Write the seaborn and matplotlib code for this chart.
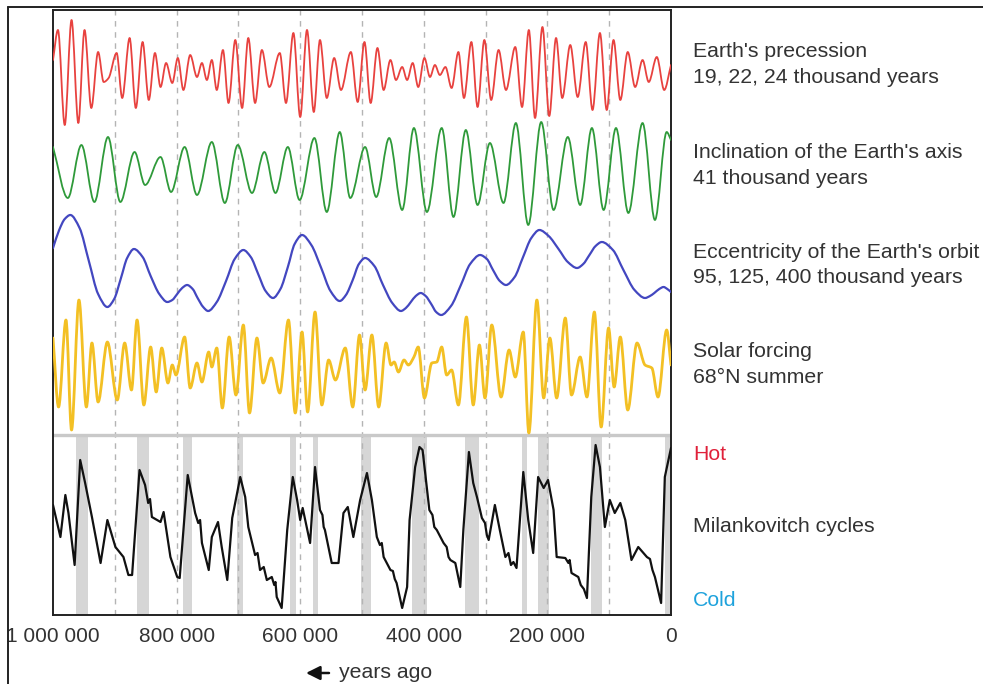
import numpy as np
import pandas as pd
import matplotlib
matplotlib.use("Agg")
import matplotlib.pyplot as plt
from matplotlib.lines import Line2D
from matplotlib.path import Path
from matplotlib.patches import PathPatch
import seaborn as sns

# ---------------- data (thousand years ago, relative amplitude) ----------------
prec_kyr = [1000, 992, 981, 970, 959, 949, 938, 927, 918, 910, 897, 888, 876, 866, 855, 845, 835, 826,
            817, 807, 798, 789, 778, 767, 759, 751, 743, 735, 725, 716, 705, 694, 684, 673, 662, 650,
            633, 623, 611, 600, 589, 578, 568, 557, 545, 534, 518, 507, 496, 486, 475, 465, 454, 445,
            435, 427, 418, 409, 399, 390, 382, 374, 365, 355, 344, 335, 323, 313, 302, 291, 279, 267,
            252, 241, 230, 220, 208, 197, 186, 176, 163, 151, 138, 127, 115, 104, 93, 82, 70, 58, 46,
            36, 23, 11, 0]
prec_val = [15, 45, -50, 55, -48, 45, -33, 23, -7, -3, 22, -23, 37, -33, 33, -25, 22, -12,
            12, -8, 17, -15, 20, -2, 12, -5, 15, -15, 25, -28, 35, -33, 37, -28, 25, -12,
            22, -28, 42, -42, 45, -37, 35, -23, 17, -15, 23, -27, 33, -28, 27, -15, 15, -5,
            8, -5, 12, -12, 17, -2, 10, 0, 8, -13, 23, -23, 33, -32, 35, -25, 25, -15,
            28, -32, 45, -43, 48, -41, 37, -23, 30, -22, 33, -35, 42, -35, 35, -25, 23, -12, 15,
            -7, 18, -15, 10]

obl_kyr = [1000, 976, 954, 933, 911, 891, 868, 851, 826, 809, 787, 767, 743, 722, 701, 678, 658, 640,
           620, 601, 577, 557, 536, 519, 495, 477, 456, 435, 416, 395, 371, 352, 332, 313, 293, 271,
           251, 231, 210, 190, 167, 147, 128, 109, 89, 69, 46, 26, 7, 0]
obl_val = [23, -28, 25, -32, 33, -32, 18, -15, 13, -22, 23, -25, 28, -33, 25, -23, 18, -23,
           23, -30, 32, -42, 38, -28, 23, -27, 32, -40, 42, -42, 42, -47, 40, -35, 27, -33,
           47, -55, 48, -40, 33, -35, 42, -40, 42, -43, 47, -50, 38, 30]

ecc_kyr = [1000, 990, 981, 972, 957, 942, 927, 912, 901, 890, 880, 869, 855, 842, 828, 815, 807, 799,
           791, 783, 774, 766, 757, 749, 735, 720, 706, 692, 680, 668, 656, 644, 632, 620, 609, 597,
           582, 566, 551, 536, 526, 515, 505, 495, 480, 466, 451, 437, 429, 421, 413, 405, 397, 388,
           380, 372, 356, 340, 325, 309, 298, 288, 277, 267, 253, 240, 226, 213, 198, 182, 167, 152,
           142, 132, 122, 112, 94, 77, 59, 42, 34, 27, 19, 12, 6, 0]
ecc_val = [22, 40, 51, 55, 42, 9, -24, -37, -29, -8, 12, 21, 13, -6, -24, -32, -30, -24,
           -18, -15, -19, -28, -37, -41, -32, -11, 11, 20, 13, -4, -21, -28, -19, 3, 26, 35,
           25, 2, -21, -31, -25, -10, 6, 12, 4, -15, -33, -41, -38, -32, -26, -23, -26, -34,
           -42, -45, -36, -15, 6, 15, 11, 0, -11, -15, -7, 12, 32, 40, 34, 21, 8, 2,
           6, 15, 24, 28, 20, 0, -20, -28, -26, -23, -19, -17, -19, -22]

sol_kyr = [1000, 991, 979, 970, 958, 946, 937, 927, 912, 896, 884, 873, 864, 853, 842, 833, 824, 814,
           807, 801, 787, 778, 767, 759, 748, 743, 735, 726, 715, 704, 692, 682, 670, 660, 647, 633,
           619, 608, 597, 588, 576, 565, 554, 543, 527, 515, 504, 495, 484, 473, 461, 453, 448, 441,
           432, 425, 416, 409, 399, 387, 379, 371, 363, 355, 344, 331, 320, 310, 301, 290, 275, 262,
           252, 239, 230, 217, 206, 196, 185, 171, 161, 147, 136, 124, 113, 101, 92, 82, 70, 55,
           42, 31, 21, 7, 0]
sol_val = [32, -37, 50, -60, 70, -37, 27, -32, 28, -30, 27, -20, 50, -35, 23, -22, 22, -13,
           5, -5, 33, -18, 7, -12, 18, 3, 22, -38, 33, -25, 45, -43, 32, -13, 12, -23,
           50, -43, 38, -42, 58, -35, 10, -10, 22, -37, 35, -20, 35, -37, 27, 5, 8, -2,
           10, 5, 13, 23, -28, 7, 8, 23, -5, 0, -35, 53, -35, 25, -28, 45, -27, 20,
           -7, 38, -63, 70, -28, 32, -28, 52, -25, 13, -27, 58, -57, 42, -17, 33, -40, 27,
           5, 2, -27, 40, 5]

temp_kyr = [1000, 988, 980, 975, 965, 956, 948, 937, 923, 912, 899, 886, 878, 872, 860, 851, 846, 843,
            840, 826, 821, 810, 799, 795, 782, 770, 765, 762, 759, 748, 743, 733, 727, 718, 710, 697,
            689, 684, 673, 669, 665, 659, 654, 646, 642, 640, 638, 630, 621, 612, 605, 600, 596, 584,
            576, 568, 564, 562, 560, 549, 538, 530, 523, 514, 503, 492, 484, 476, 471, 468, 465, 454,
            450, 447, 444, 435, 427, 423, 414, 407, 402, 391, 386, 383, 379, 368, 363, 360, 357, 349,
            341, 336, 327, 320, 314, 306, 301, 298, 295, 285, 277, 268, 263, 259, 255, 250, 239, 231,
            223, 215, 206, 199, 190, 185, 171, 166, 164, 161, 150, 146, 141, 136, 129, 122, 115, 107,
            99, 91, 82, 74, 64, 53, 39, 34, 30, 26, 16, 10, 0]
temp_val = [110, 78, 120, 102, 50, 155, 132, 98, 52, 95, 68, 58, 40, 40, 145, 130, 112, 116,
            98, 93, 103, 58, 38, 37, 140, 102, 92, 95, 72, 45, 78, 93, 68, 35, 97, 138,
            118, 88, 60, 62, 45, 48, 35, 38, 30, 33, 18, 7, 85, 138, 115, 95, 107, 72,
            148, 105, 100, 88, 85, 52, 52, 102, 108, 78, 115, 142, 115, 78, 70, 72, 58, 45,
            44, 36, 32, 7, 28, 95, 148, 168, 165, 105, 100, 88, 85, 72, 68, 58, 55, 52,
            28, 85, 163, 132, 118, 97, 92, 80, 75, 110, 85, 58, 62, 50, 53, 47, 143, 95,
            62, 138, 127, 135, 105, 58, 57, 52, 55, 42, 38, 30, 26, 17, 118, 170, 148, 88,
            115, 102, 112, 95, 55, 68, 58, 56, 45, 38, 12, 138, 167]

warm_start_kyr = [962, 864, 789, 702, 617, 580, 501, 419, 334, 241, 216, 129, 9]
warm_end_kyr = [943, 845, 775, 693, 606, 571, 486, 395, 310, 233, 197, 112, 0]

tick_years = [1000000, 800000, 600000, 400000, 200000, 0]
tick_labels = ["1 000 000", "800 000", "600 000", "400 000", "200 000", "0"]
grid_years = [900000, 800000, 700000, 600000, 500000, 400000, 300000, 200000, 100000]

series_names = ["Earth's precession\n19, 22, 24 thousand years",
                "Inclination of the Earth's axis\n41 thousand years",
                "Eccentricity of the Earth's orbit\n95, 125, 400 thousand years",
                "Solar forcing\n68°N summer"]


def smooth_path(xs, ys):
    """Monotone cubic Bezier path through every read point (horizontal at extrema)."""
    x = np.asarray(xs, float)
    y = np.asarray(ys, float)
    n = len(x)
    d = np.diff(y) / np.diff(x)
    m = np.zeros(n)
    m[0], m[-1] = d[0], d[-1]
    for i in range(1, n - 1):
        if d[i - 1] * d[i] > 0:
            m[i] = 2.0 / (1.0 / d[i - 1] + 1.0 / d[i])
    verts = [(x[0], y[0])]
    codes = [Path.MOVETO]
    for i in range(n - 1):
        h = x[i + 1] - x[i]
        verts += [(x[i] + h / 3, y[i] + m[i] * h / 3),
                  (x[i + 1] - h / 3, y[i + 1] - m[i + 1] * h / 3),
                  (x[i + 1], y[i + 1])]
        codes += [Path.CURVE4] * 3
    return Path(verts, codes)


# ---------------- figure ----------------
sns.set_theme(style="white")
plt.rcParams['font.family'] = ['Liberation Sans', 'DejaVu Sans']

W, H = 983, 684
fig = plt.figure(figsize=(W / 100, H / 100), dpi=100)
ax = fig.add_axes([53 / W, 1 - 615 / H, (671 - 53) / W, (615 - 10) / H])

YTOP = 605
SEP = 180

# interglacial bands in the lower panel
for s, e in zip(warm_start_kyr, warm_end_kyr):
    ax.axvspan(s * 1000, e * 1000, ymin=0, ymax=SEP / YTOP, color="#d6d6d6", lw=0, zorder=0)

for g in grid_years:
    ax.axvline(g, color="#b4b4b4", lw=1.0, ls=(0, (4, 4)), zorder=1)

ax.axhline(SEP, color="#c9c9c9", lw=2.4, zorder=1)

# orbital series (smooth curves through the read points)
for k, v, off, c, lw in [(prec_kyr, prec_val, 540, "#e8423f", 1.3),
                         (obl_kyr, obl_val, 445, "#2f9a3a", 1.3),
                         (ecc_kyr, ecc_val, 345, "#4347c0", 1.6),
                         (sol_kyr, sol_val, 245, "#f3c024", 2.0)]:
    df = pd.DataFrame({"years": np.array(k) * 1000.0, "value": np.array(v) + off})
    ax.add_patch(PathPatch(smooth_path(df["years"], df["value"]), facecolor="none",
                           edgecolor=c, lw=lw, capstyle="round", joinstyle="round", zorder=3))

# Milankovitch temperature record
dft = pd.DataFrame({"years": np.array(temp_kyr) * 1000.0, "value": temp_val})
sns.lineplot(data=dft, x="years", y="value", ax=ax, color="#111111", lw=1.6, sort=False,
             estimator=None, zorder=3)

ax.set_xlim(1000000, 0)
ax.set_ylim(0, YTOP)
ax.set_yticks([])
ax.set_xticks(tick_years)
ax.set_xticklabels(tick_labels)
ax.tick_params(axis="x", length=0, pad=9, labelsize=15, labelcolor="#333333")
ax.set_xlabel("")
ax.set_ylabel("")
for sp in ax.spines.values():
    sp.set_color("#222222")
    sp.set_linewidth(1.4)

# right-hand labels
label_y = [64.5, 165.5, 265, 364.5]
for txt, yy in zip(series_names, label_y):
    fig.text(693 / W, 1 - yy / H, txt, ha="left", va="center", fontsize=15.3,
             color="#333333", linespacing=1.43)
fig.text(693 / W, 1 - 455 / H, "Hot", ha="left", va="center", fontsize=15.3, color="#e0213a")
fig.text(693 / W, 1 - 527 / H, "Milankovitch cycles", ha="left", va="center", fontsize=15.3,
         color="#333333")
fig.text(693 / W, 1 - 600 / H, "Cold", ha="left", va="center", fontsize=15.3, color="#1ea2dc")

# bottom arrow label
fig.text(339 / W, 1 - 673 / H, "years ago", ha="left", va="center", fontsize=15.3, color="#333333")
ax.annotate("", xy=(306 / W, 1 - 673 / H), xytext=(329 / W, 1 - 673 / H),
            xycoords="figure fraction", textcoords="figure fraction",
            arrowprops=dict(arrowstyle="-|>,head_length=0.7,head_width=0.35", color="#111111",
                            lw=1.8, shrinkA=0, shrinkB=0))

# outer frame of the picture
fig.add_artist(Line2D([8 / W, 1.0], [1 - 7 / H, 1 - 7 / H], color="#222222", lw=1.4,
                      transform=fig.transFigure))
fig.add_artist(Line2D([8 / W, 8 / W], [0, 1 - 7 / H], color="#222222", lw=1.4,
                      transform=fig.transFigure))

fig.savefig("out.png", dpi=100, facecolor="white")
